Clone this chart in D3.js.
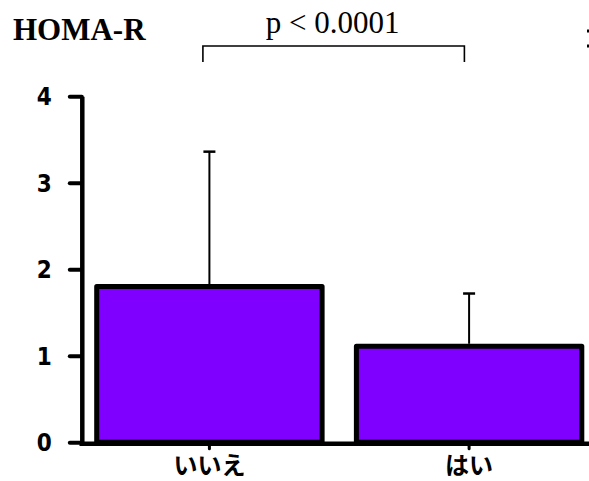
<!DOCTYPE html>
<html>
<head>
<meta charset="utf-8">
<script src="https://cdn.jsdelivr.net/npm/d3@7"></script>
<style>
  body { margin: 0; background: #fff; }
  svg { display: block; }
</style>
</head>
<body>
<div id="chart"></div>
<script>
// data
var categories = ['いいえ', 'はい'];
var means = [1.80, 1.11];
var upperSD = [3.36, 1.72];
var yTicks = [0, 1, 2, 3, 4];
var title = 'HOMA-R';
var pLabel = 'p < 0.0001';

var width = 589, height = 481;

var svg = d3.select('#chart').append('svg')
    .attr('width', width)
    .attr('height', height);

var y = d3.scaleLinear()
    .domain([0, 4])
    .range([442.3, 96.3]);

var x = d3.scaleBand()
    .domain(categories)
    .range([82, 596.5])
    .paddingInner(0.132)
    .paddingOuter(0.0566);

var bw = x.bandwidth();

// bars
svg.append('g').attr('class', 'bars')
    .selectAll('rect')
    .data(categories)
    .enter().append('rect')
    .attr('x', d => x(d))
    .attr('y', (d, i) => y(means[i]))
    .attr('width', bw)
    .attr('height', (d, i) => y(0) - y(means[i]))
    .attr('fill', '#8000ff')
    .attr('stroke', '#000')
    .attr('stroke-width', 5)
    .attr('stroke-linejoin', 'round');

// error bars (upper only)
var err = svg.append('g').attr('class', 'errors')
    .selectAll('g')
    .data(categories)
    .enter().append('g');

err.append('line')
    .attr('x1', d => x(d) + bw / 2)
    .attr('x2', d => x(d) + bw / 2)
    .attr('y1', (d, i) => y(means[i]) - 2.5)
    .attr('y2', (d, i) => y(upperSD[i]))
    .attr('stroke', '#000')
    .attr('stroke-width', 2);

err.append('line')
    .attr('x1', d => x(d) + bw / 2 - 6)
    .attr('x2', d => x(d) + bw / 2 + 6)
    .attr('y1', (d, i) => y(upperSD[i]))
    .attr('y2', (d, i) => y(upperSD[i]))
    .attr('stroke', '#000')
    .attr('stroke-width', 2.5);

// y axis
var yAxis = svg.append('g')
    .attr('transform', 'translate(81.8,0)')
    .call(d3.axisLeft(y).tickValues(yTicks).tickFormat(d3.format('d'))
        .tickSize(12).tickSizeOuter(0).tickPadding(18));

yAxis.select('.domain')
    .attr('stroke-width', 4.5);
yAxis.selectAll('.tick line')
    .attr('stroke-width', 4)
    .attr('stroke-linecap', 'round');
yAxis.selectAll('.tick text')
    .attr('font-family', '"DejaVu Sans Condensed", "DejaVu Sans", sans-serif')
    .attr('font-weight', 'bold')
    .attr('font-size', 24)
    .attr('fill', '#000')
    .attr('dy', '0.36em');

// x axis
var xAxis = svg.append('g')
    .attr('transform', 'translate(0,' + (y(0) + 1.5) + ')')
    .call(d3.axisBottom(x).tickSize(5).tickSizeOuter(0).tickPadding(6));

xAxis.select('.domain').remove();
xAxis.append('line')
    .attr('x1', 79.5)
    .attr('x2', width)
    .attr('stroke', '#000')
    .attr('stroke-width', 4.5);
xAxis.selectAll('.tick line')
    .attr('stroke-width', 3)
    .attr('stroke-linecap', 'round');
xAxis.selectAll('.tick text')
    .attr('font-family', '"Noto Sans CJK JP", sans-serif')
    .attr('font-weight', 'bold')
    .attr('font-size', 24)
    .attr('fill', '#000')
    .attr('y', 13)
    .attr('dy', '0.7em');

// title
svg.append('text')
    .attr('x', 13)
    .attr('y', 40)
    .attr('font-family', '"Liberation Serif", "Times New Roman", serif')
    .attr('font-weight', 'bold')
    .attr('font-size', 31)
    .attr('fill', '#000')
    .text(title);

// significance bracket
var bx1 = x(categories[0]) + bw / 2 - 6.5;
var bx2 = x(categories[1]) + bw / 2 - 4.7;
svg.append('path')
    .attr('d', 'M' + bx1 + ',62V46H' + bx2 + 'V62')
    .attr('fill', 'none')
    .attr('stroke', '#000')
    .attr('stroke-width', 1.6);

svg.append('text')
    .attr('x', (bx1 + bx2) / 2 - 1)
    .attr('y', 33)
    .attr('text-anchor', 'middle')
    .attr('font-family', '"Liberation Serif", "Times New Roman", serif')
    .attr('font-size', 31)
    .attr('fill', '#000')
    .text(pLabel);

// the sliver of a cut-off mark at the right edge
svg.append('g').selectAll('rect')
    .data([31, 46])
    .enter().append('rect')
    .attr('x', 587)
    .attr('y', d => d - 1.5)
    .attr('width', 2)
    .attr('height', 3)
    .attr('fill', '#000');
</script>
</body>
</html>
